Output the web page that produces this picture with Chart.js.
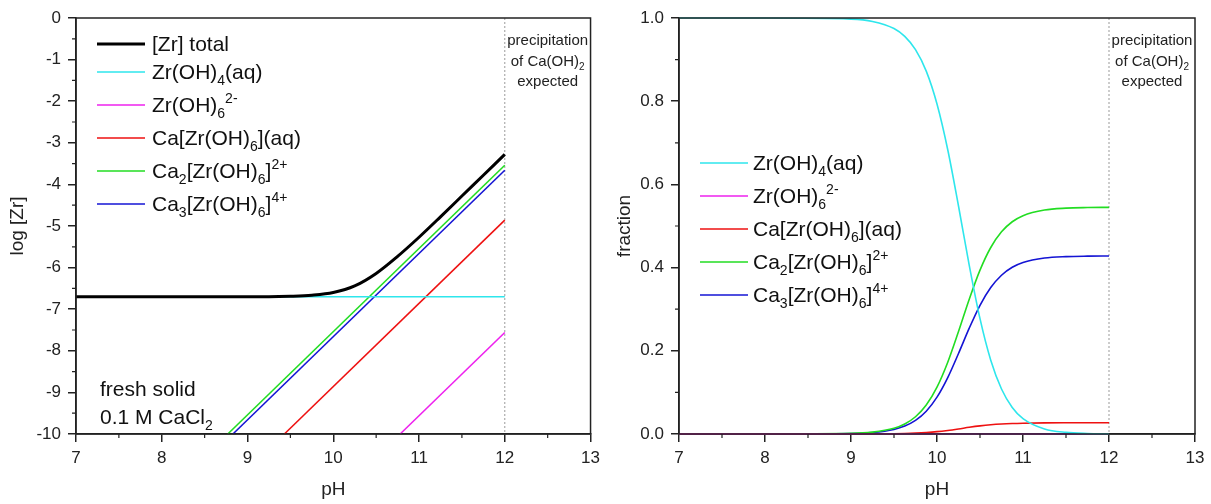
<!DOCTYPE html>
<html>
<head>
<meta charset="utf-8">
<script src="https://cdn.jsdelivr.net/npm/chart.js@4.4.1/dist/chart.umd.min.js"></script>
<style>
  html, body { margin: 0; padding: 0; background: #fff; }
  #wrap { position: relative; width: 1211px; height: 504px; }
  .box { position: absolute; top: 0; height: 504px; }
</style>
</head>
<body>
<div id="wrap">
  <div class="box" style="left:0;width:606px"><canvas id="leftChart"></canvas></div>
  <div class="box" style="left:606px;width:605px"><canvas id="rightChart"></canvas></div>
</div>
<script>
  const FONT = '"Liberation Sans", Arial, sans-serif';

  // ---- left panel: log [Zr] vs pH ----
  const totalPh = [7, 8, 9, 9.25, 9.5, 9.75, 10, 10.25, 10.5, 10.75, 11, 11.25, 11.5, 11.75, 12];
  const totalLog = [-6.70, -6.70, -6.70, -6.70, -6.69, -6.665, -6.60, -6.44, -6.14, -5.73, -5.27, -4.78, -4.28, -3.78, -3.28];
  const zr4Ph = [7, 12];
  const zr4Log = [-6.70, -6.70];
  const zr6Ph = [10.78, 12];
  const zr6Log = [-10, -7.56];
  const caPh = [9.43, 12];
  const caLog = [-10, -4.86];
  const ca2Ph = [8.77, 12];
  const ca2Log = [-10, -3.54];
  const ca3Ph = [8.83, 12];
  const ca3Log = [-10, -3.66];

  // ---- right panel: fraction vs pH ----
  const fracPh = [7, 8, 9, 9.25, 9.5, 9.625, 9.75, 9.875, 10, 10.125, 10.25, 10.375, 10.5, 10.625, 10.75, 10.875, 11, 11.25, 11.5, 11.75, 12];
  const zr4Frac = [1.0, 1.0, 0.9974, 0.9918, 0.9746, 0.9557, 0.9238, 0.8722, 0.7932, 0.6833, 0.5481, 0.4055, 0.2772, 0.1774, 0.1082, 0.0639, 0.0369, 0.0120, 0.0038, 0.0012, 0.0004];
  const zr6Frac = [0, 0, 0, 0, 0, 0, 0, 0, 0, 0, 0, 0, 0, 0, 0, 0, 0, 0, 0, 0, 0];
  const caFrac = [0, 0, 0.0001, 0.0002, 0.0007, 0.0012, 0.0021, 0.0035, 0.0056, 0.0086, 0.0122, 0.0161, 0.0195, 0.0222, 0.0241, 0.0253, 0.0260, 0.0267, 0.0269, 0.0270, 0.0270];
  const ca2Frac = [0, 0, 0.0014, 0.0045, 0.0138, 0.0241, 0.0415, 0.0697, 0.1127, 0.1726, 0.2463, 0.3240, 0.3939, 0.4483, 0.4860, 0.5102, 0.5249, 0.5385, 0.5429, 0.5443, 0.5448];
  const ca3Frac = [0, 0, 0.0011, 0.0035, 0.0109, 0.0190, 0.0326, 0.0547, 0.0885, 0.1355, 0.1934, 0.2544, 0.3094, 0.3521, 0.3817, 0.4007, 0.4122, 0.4229, 0.4264, 0.4275, 0.4278];

  const species = {
    total: { label: '[Zr] total', color: '#000000', width: 3 },
    zr4: { label: 'Zr(OH)_{4}(aq)', color: '#2ee6ec', width: 1.6 },
    zr6: { label: 'Zr(OH)_{6}^{2-}', color: '#ee22ee', width: 1.6 },
    ca: { label: 'Ca[Zr(OH)_{6}](aq)', color: '#ee1111', width: 1.6 },
    ca2: { label: 'Ca_{2}[Zr(OH)_{6}]^{2+}', color: '#22dd22', width: 1.6 },
    ca3: { label: 'Ca_{3}[Zr(OH)_{6}]^{4+}', color: '#1414d4', width: 1.6 },
  };

  const pts = (xs, ys) => xs.map((x, i) => ({ x: x, y: ys[i] }));

  // simple markup: _{..} subscript, ^{..} superscript
  const parseRich = (str) => {
    const out = [];
    const re = /(_|\^)\{([^}]*)\}/g;
    let last = 0, m;
    while ((m = re.exec(str))) {
      if (m.index > last) out.push([str.slice(last, m.index), 'n']);
      out.push([m[2], m[1] === '_' ? 'sub' : 'sup']);
      last = re.lastIndex;
    }
    if (last < str.length) out.push([str.slice(last), 'n']);
    return out;
  };

  const drawRich = (ctx, str, x, y, size, align) => {
    const pieces = parseRich(str).map(([t, k]) => {
      const s = k === 'n' ? size : Math.round(size * 0.66);
      ctx.font = `${s}px ${FONT}`;
      return { t, k, s, w: ctx.measureText(t).width };
    });
    const total = pieces.reduce((a, p) => a + p.w, 0);
    let cx = align === 'center' ? x - total / 2 : x;
    ctx.textAlign = 'left';
    ctx.textBaseline = 'alphabetic';
    pieces.forEach((p) => {
      ctx.font = `${p.s}px ${FONT}`;
      const dy = p.k === 'sub' ? size * 0.28 : p.k === 'sup' ? -size * 0.42 : 0;
      ctx.fillText(p.t, cx, y + dy);
      cx += p.w;
    });
  };

  // frame, minor ticks, dotted line at pH 12, legend and notes
  const decor = {
    id: 'decor',
    beforeDatasetsDraw(chart) {
      const { ctx, chartArea: a, scales } = chart;
      const x12 = scales.x.getPixelForValue(12);
      ctx.save();
      ctx.strokeStyle = '#9a9a9a';
      ctx.lineWidth = 1;
      ctx.setLineDash([2, 2]);
      ctx.beginPath();
      ctx.moveTo(x12, a.top);
      ctx.lineTo(x12, a.bottom);
      ctx.stroke();
      ctx.restore();
    },
    afterDraw(chart, args, opts) {
      const { ctx, chartArea: a, scales } = chart;
      ctx.save();
      // full frame on top of the curves
      ctx.strokeStyle = '#222';
      ctx.lineWidth = 1.5;
      ctx.strokeRect(a.left, a.top, a.right - a.left, a.bottom - a.top);

      // minor ticks halfway between major ones, pointing outward
      ctx.lineWidth = 1.2;
      ctx.beginPath();
      const xt = scales.x.ticks.map((t) => t.value);
      for (let i = 0; i < xt.length - 1; i++) {
        const px = scales.x.getPixelForValue((xt[i] + xt[i + 1]) / 2);
        ctx.moveTo(px, a.bottom);
        ctx.lineTo(px, a.bottom + 4);
      }
      const yt = scales.y.ticks.map((t) => t.value);
      for (let i = 0; i < yt.length - 1; i++) {
        const py = scales.y.getPixelForValue((yt[i] + yt[i + 1]) / 2);
        ctx.moveTo(a.left, py);
        ctx.lineTo(a.left - 4, py);
      }
      ctx.stroke();

      // legend
      opts.legend.keys.forEach((key, i) => {
        const sp = species[key];
        const row = opts.legend.rows[i];
        ctx.strokeStyle = sp.color;
        ctx.lineWidth = sp.width;
        ctx.beginPath();
        ctx.moveTo(opts.legend.x0, row);
        ctx.lineTo(opts.legend.x1, row);
        ctx.stroke();
        ctx.fillStyle = '#111';
        drawRich(ctx, sp.label, opts.legend.tx, row + 7, 21, 'left');
      });

      // precipitation note in the pH 12-13 strip
      const xc = (scales.x.getPixelForValue(12) + scales.x.getPixelForValue(13)) / 2;
      ctx.fillStyle = '#222';
      ['precipitation', 'of Ca(OH)_{2}', 'expected'].forEach((line, i) => {
        drawRich(ctx, line, xc, 45 + i * 20.5, 15, 'center');
      });

      (opts.notes || []).forEach((n) => {
        ctx.fillStyle = '#111';
        drawRich(ctx, n.text, n.x, n.y, 21, 'left');
      });
      ctx.restore();
    },
  };

  const axisStyle = (min, max, step, title, width, titlePad, fmt) => ({
    x: {
      type: 'linear',
      min: 7,
      max: 13,
      ticks: { stepSize: 1, color: '#222', font: { family: FONT, size: 17 }, padding: 6 },
      grid: { drawOnChartArea: false, drawTicks: true, tickLength: 8, color: '#222', lineWidth: 1.5 },
      border: { color: '#222', width: 1.5 },
      title: { display: true, text: 'pH', color: '#222', font: { family: FONT, size: 19 }, padding: { top: 0, bottom: 3 } },
      afterFit: (s) => { s.height = 70; },
    },
    y: {
      type: 'linear',
      min: min,
      max: max,
      ticks: { stepSize: step, color: '#222', font: { family: FONT, size: 17 }, padding: 7, callback: fmt },
      grid: { drawOnChartArea: false, drawTicks: true, tickLength: 8, color: '#222', lineWidth: 1.5 },
      border: { color: '#222', width: 1.5 },
      title: { display: true, text: title, color: '#222', font: { family: FONT, size: 19 }, padding: { top: titlePad, bottom: 0 } },
      afterFit: (s) => { s.width = width; },
    },
  });

  const lineSet = (key, data, curved) => ({
    label: species[key].label,
    data: data,
    showLine: true,
    borderColor: species[key].color,
    borderWidth: species[key].width,
    pointRadius: 0,
    fill: false,
    cubicInterpolationMode: curved ? 'monotone' : 'default',
    clip: 4,
  });

  new Chart(document.getElementById('leftChart'), {
    type: 'scatter',
    data: {
      datasets: [
        lineSet('total', pts(totalPh, totalLog), true),
        lineSet('zr4', pts(zr4Ph, zr4Log)),
        lineSet('zr6', pts(zr6Ph, zr6Log)),
        lineSet('ca', pts(caPh, caLog)),
        lineSet('ca2', pts(ca2Ph, ca2Log)),
        lineSet('ca3', pts(ca3Ph, ca3Log)),
      ],
    },
    options: {
      responsive: true,
      maintainAspectRatio: false,
      animation: false,
      layout: { padding: { left: 0, right: 14, top: 18, bottom: 0 } },
      plugins: {
        legend: { display: false },
        tooltip: { enabled: false },
        decor: {
          legend: { keys: ['total', 'zr4', 'zr6', 'ca', 'ca2', 'ca3'], rows: [44, 72, 105, 138, 171, 204], x0: 97, x1: 145, tx: 152 },
          notes: [
            { text: 'fresh solid', x: 100, y: 396 },
            { text: '0.1 M CaCl_{2}', x: 100, y: 424 },
          ],
        },
      },
      scales: axisStyle(-10, 0, 1, 'log [Zr]', 76, 6, (v) => String(v)),
    },
    plugins: [decor],
  });

  new Chart(document.getElementById('rightChart'), {
    type: 'scatter',
    data: {
      datasets: [
        lineSet('zr4', pts(fracPh, zr4Frac), true),
        lineSet('zr6', pts(fracPh, zr6Frac), true),
        lineSet('ca', pts(fracPh, caFrac), true),
        lineSet('ca2', pts(fracPh, ca2Frac), true),
        lineSet('ca3', pts(fracPh, ca3Frac), true),
      ],
    },
    options: {
      responsive: true,
      maintainAspectRatio: false,
      animation: false,
      layout: { padding: { left: 0, right: 16, top: 18, bottom: 0 } },
      plugins: {
        legend: { display: false },
        tooltip: { enabled: false },
        decor: {
          legend: { keys: ['zr4', 'zr6', 'ca', 'ca2', 'ca3'], rows: [163, 196, 229, 262, 295], x0: 94, x1: 142, tx: 147 },
        },
      },
      scales: axisStyle(0, 1, 0.2, 'fraction', 73, 7, (v) => v.toFixed(1)),
    },
    plugins: [decor],
  });
</script>
</body>
</html>
